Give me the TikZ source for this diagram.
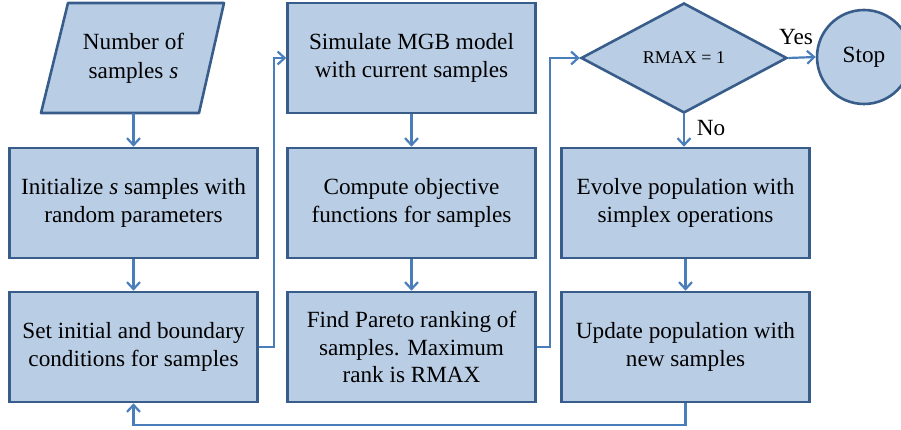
\documentclass[tikz,border=0pt]{standalone}
\usepackage{fontspec}
\setmainfont{Liberation Serif}
\usetikzlibrary{shapes.geometric,arrows.meta}
\definecolor{fillb}{HTML}{B9CDE5}
\definecolor{edgeb}{HTML}{385D8A}
\definecolor{arrb}{HTML}{4A7EBB}
\begin{document}
\begin{tikzpicture}[x=1pt,y=-1pt,
  txt/.style={align=center,text=black,font=\fontsize{23.2}{27.5}\selectfont},
  lower/.style={execute at begin node={\rule{0pt}{29pt}}},
  box/.style={txt,lower,draw=edgeb,fill=fillb,line width=2.6pt,minimum width=248pt,minimum height=110pt,inner sep=0pt},
  conn/.style={draw=arrb,line width=2.2pt,-{Straight Barb[length=7pt,width=13pt]}},
  lbl/.style={txt,inner sep=0pt}]
\useasboundingbox (0,0) rectangle (901,430);
% parallelogram input
\filldraw[draw=edgeb,fill=fillb,line width=2.6pt,line join=round] (68,3) -- (224,3) -- (199,113) -- (41,113) -- cycle;
\node[txt,lower,minimum width=150pt,minimum height=110pt,inner sep=0pt,font=\fontsize{23.2}{29}\selectfont] (param) at (133.5,58) {Number of\\samples \textit{s}};
\node[box] (init) at (133.5,203) {Initialize \textit{s} samples with\\random parameters};
\node[box] (set) at (133.5,347) {Set initial and boundary\\conditions for samples};
\node[box] (sim) at (411.5,58) {Simulate MGB model\\with current samples};
\node[box] (comp) at (411.5,203) {Compute objective\\functions for samples};
\node[box] (find) at (411.5,347) {Find Pareto ranking of\\samples. Maximum\\rank is RMAX};
\node[shape=diamond,draw=edgeb,fill=fillb,line width=2.6pt,minimum width=206pt,minimum height=110pt,inner sep=0pt,text=black,font=\fontsize{18}{20}\selectfont] (dec) at (684,58) {RMAX = 1};
\node[shape=circle,draw=edgeb,fill=fillb,line width=2.6pt,minimum size=94pt,inner sep=0pt,txt] (stop) at (864,57) {Stop};
\node[box] (evo) at (685.5,203) {Evolve population with\\simplex operations};
\node[box] (upd) at (685.5,347) {Update population with\\new samples};
\node[lbl] (yes) at (796,37) {Yes};
\node[lbl] (no) at (711,128) {No};
% connectors
\draw[conn] (param.south) -- (init.north);
\draw[conn] (init) -- (set);
\draw[conn] (set.east) -- ++(15,0) |- (sim.west);
\draw[conn] (sim) -- (comp);
\draw[conn] (comp) -- (find);
\draw[conn] (find.east) -- ++(13,0) |- (dec.west);
\draw[conn] (dec.east) -- (stop.west);
\draw[conn] (dec.south) -- (dec.south |- evo.north);
\draw[conn] (evo) -- (upd);
\draw[conn] (upd.south) -- ++(0,22) -| (set.south);
\end{tikzpicture}
\end{document}
